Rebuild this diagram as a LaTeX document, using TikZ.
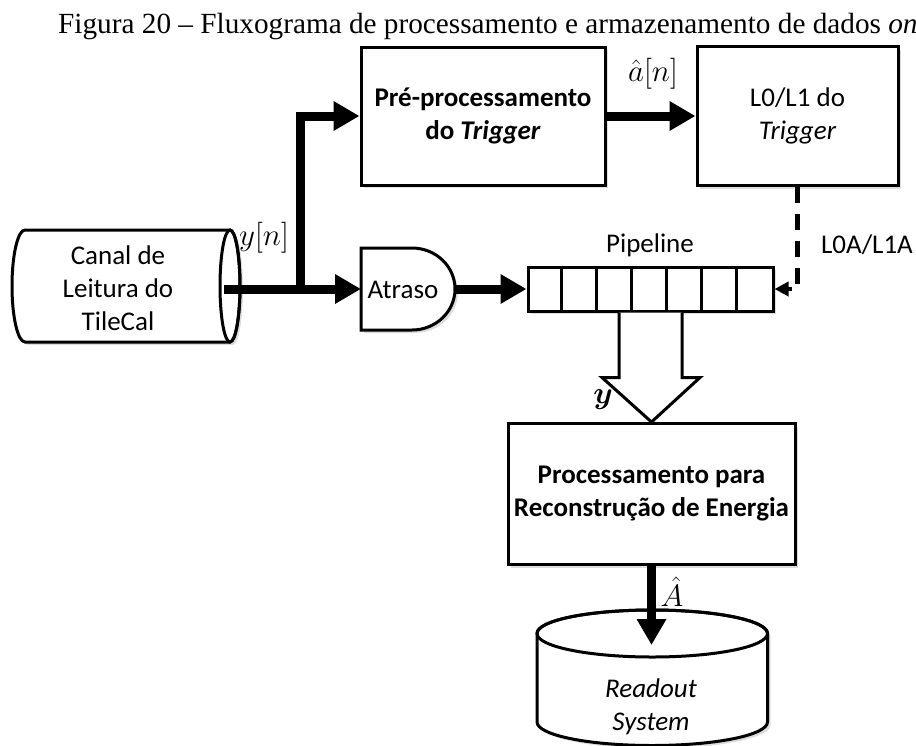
\documentclass[tikz,border=0pt]{standalone}
\usepackage{fix-cm}
\usepackage{amsmath}
\usepackage{fontspec}
\setmainfont{Carlito}
\newfontfamily\titlefont{Liberation Serif}
\usetikzlibrary{arrows.meta,shadows,calc}
\begin{document}
\begin{tikzpicture}[x=1pt,y=-1pt,
  shadowed/.style={drop shadow={shadow xshift=3pt,shadow yshift=-3pt,opacity=0.22,fill=black!60}},
  txt/.style={font=\fontsize{27}{33}\selectfont, align=center, inner sep=0pt},
  mathlbl/.style={font=\fontsize{31}{36}\selectfont, inner sep=0pt},
  blockbox/.style={draw, line width=3pt, fill=white, shadowed, txt},
  thickarrow/.style={line width=9pt, -{Triangle[length=26pt,width=28pt]}},
  outline/.style={draw, line width=3pt, fill=white, shadowed}
]
\path[clip] (0,0) rectangle (916,745);
\useasboundingbox (0,0) rectangle (916,745);

% title
\node[anchor=base west, inner sep=0pt, font=\titlefont\fontsize{29.25}{35}\selectfont] (title) at (58,33)
  {Figura 20 – Fluxograma de processamento e armazenamento de dados \textit{on}};

% top boxes
\node[blockbox, minimum width=244pt, minimum height=138pt] (pre) at (483,116)
  {\textbf{Pré-processamento}\\\textbf{do \textit{Trigger}}};
\node[blockbox, minimum width=201pt, minimum height=139pt] (l0) at (797.5,116)
  {L0/L1 do\\\textit{Trigger}};

% TileCal cylinder (horizontal)
\path[outline] (25,230) -- (230,230)
  .. controls (235.5,230) and (240,255.1) .. (240,286)
  .. controls (240,316.9) and (235.5,342) .. (230,342)
  -- (25,342)
  .. controls (17.8,342) and (12,316.9) .. (12,286)
  .. controls (12,255.1) and (17.8,230) .. (25,230) -- cycle;
\draw[line width=3pt] (230,286) ellipse [x radius=10, y radius=56];
\node[txt, minimum width=200pt, minimum height=112pt] (tile) at (118,288)
  {Canal de\\Leitura do\\TileCal};
\coordinate (tileout) at (224,289);
\coordinate (split) at (300,289);

% Atraso (D shape)
\node[minimum width=94pt, minimum height=82pt, inner sep=0pt, outer sep=0pt] (atraso) at (408,289) {};
\path[outline] (361,248) -- (412,248)
  .. controls (435.75,248) and (455,266.36) .. (455,289)
  .. controls (455,311.64) and (435.75,330) .. (412,330)
  -- (361,330) -- cycle;
\node[txt] (atrasotxt) at (403,290) {Atraso};

% Pipeline
\node[draw, line width=3pt, fill=white, shadowed, minimum width=245pt, minimum height=44pt, inner sep=0pt] (pipe) at (650.5,289) {};
\foreach \i in {1,...,6}
  \draw[line width=3pt] ($(pipe.north west)+(35*\i,0)$) -- ($(pipe.south west)+(35*\i,0)$);
\node[txt] (pipelbl) at (650,245) {Pipeline};

% Processamento box
\node[blockbox, minimum width=287pt, minimum height=141pt] (proc) at (651.5,494)
  {\textbf{Processamento para}\\\textbf{Reconstrução de Energia}};

% Readout cylinder (vertical)
\path[outline] (537,633.5) -- (537,722)
  .. controls (537,735) and (588.2,745.5) .. (652,745.5)
  .. controls (715.8,745.5) and (767.5,735) .. (767.5,722)
  -- (767.5,633.5)
  .. controls (767.5,620.5) and (715.8,610) .. (652,610)
  .. controls (588.2,610) and (537,620.5) .. (537,633.5) -- cycle;
\draw[line width=3pt] (652.25,633.5) ellipse [x radius=115.25, y radius=23.5];
\node[txt] (readout) at (651,707) {\textit{Readout}\\\textit{System}};
\coordinate (rtop) at (651.5,645);

% connectors
\draw[thickarrow] (tileout) -- (atraso.west);
\draw[thickarrow] (split) |- (pre.west);
\draw[thickarrow] (pre.east) -- (l0.west);
\draw[thickarrow] (atraso.east) -- (pipe.west);
\draw[line width=4.5pt, dash pattern=on 16pt off 11pt, -{Triangle[length=14pt,width=14pt]}] (l0.south) |- (pipe.east);
\draw[line width=3pt, fill=white, line join=miter]
  ($(pipe.south)+(-31.5,0)$) -- ++(0,65) -- ++(-17,0) -- (proc.north)
  -- ($(pipe.south)+(49.5,65)$) -- ++(-18,0) -- ($(pipe.south)+(31.5,0)$);
\draw[thickarrow] (proc.south) -- (rtop);

% labels
\node[mathlbl] (lyn) at (264,238) {$y[n]$};
\node[mathlbl] (lan) at (653,74) {$\hat{a}[n]$};
\node[mathlbl] (ly) at (603,400) {$\boldsymbol{y}$};
\node[mathlbl] (lA) at (672,592) {$\hat{A}$};
\node[txt] (ll0a) at (867,245) {L0A/L1A};
\end{tikzpicture}
\end{document}
